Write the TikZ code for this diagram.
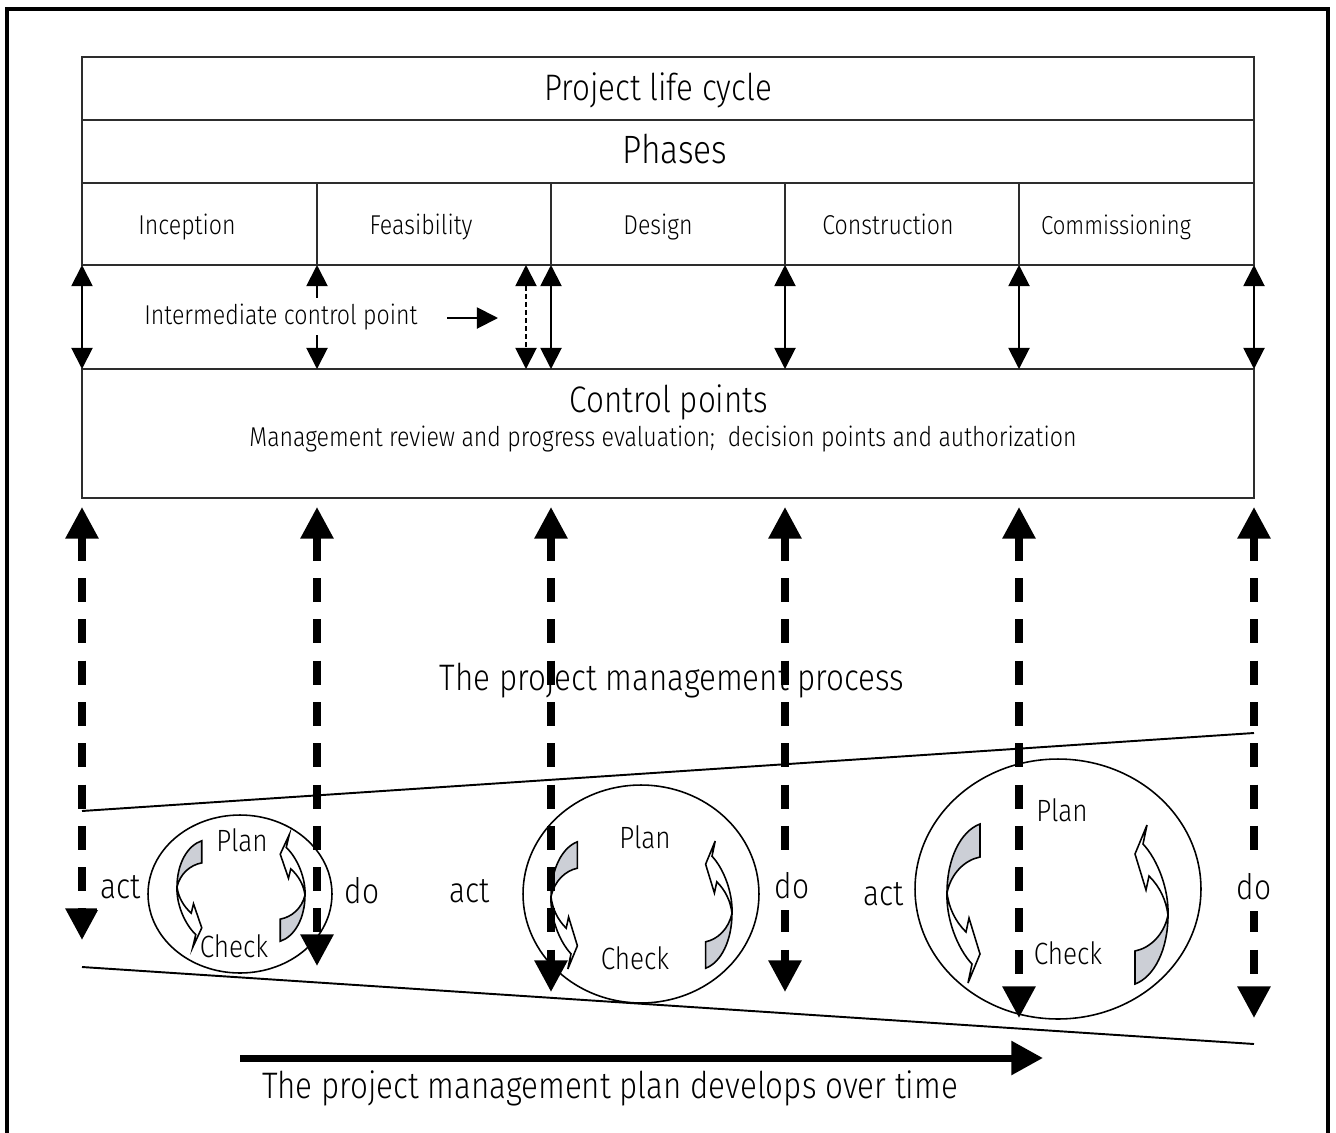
\documentclass[tikz,border=0pt]{standalone}
\usepackage{fontspec}
\setmainfont{Fira Sans}[UprightFont=* Light, FakeStretch=0.85]
\usetikzlibrary{arrows.meta,shapes.geometric}
\definecolor{ribbon}{RGB}{204,207,214}
\definecolor{rulegray}{RGB}{45,45,45}

\tikzset{
  pics/ribbon/.style={code={
    % shaded back of the twisted ribbon
    \filldraw[fill=ribbon, line width=0.9pt]
      (0,0) .. controls (0,-35) and (14,-62) .. (33,-69) -- (33,-36)
      .. controls (18,-33) and (4,-20) .. cycle;
    % white front with the arrow head
    \filldraw[fill=white, line width=0.9pt]
      (0,0) .. controls (-1,25) and (10,55) .. (25,71) -- (21,90) -- (33,61)
      -- (22,25) -- (19,39) .. controls (8,28) and (2,15) .. cycle;
  }}
}

\begin{document}
\begin{tikzpicture}[x=0.02cm, y=-0.02cm,
  grid/.style={line width=1.1pt, draw=rulegray},
  big/.style={font=\fontsize{21}{24}\selectfont, inner sep=1pt, anchor=base},
  mid/.style={font=\fontsize{15.5}{18}\selectfont, inner sep=1pt, anchor=base},
  cyc/.style={font=\fontsize{17.5}{20}\selectfont, inner sep=1pt, anchor=base},
  side/.style={font=\fontsize{20}{23}\selectfont, inner xsep=2pt, inner ysep=6pt,
    text depth=0.1em, anchor=base, fill=white},
  oval/.style={draw, ellipse, line width=0.9pt, inner sep=0pt},
  thinarrow/.style={line width=1.1pt,
    {Triangle[width=12pt,length=12pt]}-{Triangle[width=12pt,length=12pt]}},
  flowarrow/.style={line width=4pt, dash pattern=on 13.6pt off 9.9pt,
    {Triangle[width=18pt,length=18pt]}-{Triangle[width=18pt,length=18pt]}},
]
\useasboundingbox (0,0) rectangle (1336,1133);

% outer frame, open at the bottom
\draw[line width=2.2pt] (7,1160) -- (7,9) -- (1328,9) -- (1328,1160);

% life cycle table
\draw[grid] (82,57) rectangle (1254,265);
\draw[grid] (82,120) -- (1254,120);
\draw[grid] (82,183) -- (1254,183);
\foreach \cx in {317,551,785,1019}
  \draw[grid] (\cx,183) -- (\cx,265);

\node[big] (lifecycle) at (658,100) {Project life cycle};
\node[big, font=\fontsize{22.5}{25}\selectfont] (phases) at (675,163) {Phases};
\node[mid] (inception) at (187,234) {Inception};
\node[mid] (feasibility) at (421,234) {Feasibility};
\node[mid] (design) at (658,234) {Design};
\node[mid] (construction) at (888,234) {Construction};
\node[mid, font=\fontsize{14.8}{17}\selectfont] (commissioning) at (1116,234) {Commissioning};

% control points box
\draw[grid] (82,369) rectangle (1254,498);
\node[big] (cp) at (669,412) {Control points};
\node[mid] (cpsub) at (663,446) {Management review and progress evaluation;\ \ decision points and authorization};

% thin two-headed arrows between the table and the control points
\foreach \i/\cx in {1/82,2/317,3/551,4/785,5/1019,6/1254} {
  \coordinate (u\i) at (\cx,265);
  \coordinate (l\i) at (\cx,369);
}
\coordinate (um) at (526,265);
\coordinate (lm) at (526,369);
\foreach \i in {1,...,6}
  \draw[thinarrow] (u\i) -- (l\i);
\draw[thinarrow, dash pattern=on 3pt off 1.6pt] (um) -- (lm);

\node[mid, fill=white, inner sep=3pt] (icp) at (281,324) {Intermediate control point};
\coordinate (icpa) at (447,318);
\coordinate (icpb) at (498,318);
\draw[line width=1.1pt, -{Triangle[width=12pt,length=12pt]}] (icpa) -- (icpb);

% process band
\coordinate (bandtl) at (82,811);
\coordinate (bandtr) at (1254,733);
\coordinate (bandbl) at (82,967);
\coordinate (bandbr) at (1254,1044);
\draw[line width=1.1pt] (bandtl) -- (bandtr);
\draw[line width=1.1pt] (bandbl) -- (bandbr);

\node[big] (process) at (672,690) {The project management process};

% plan-do-check cycles
\node[oval, minimum width=3.68cm, minimum height=3.16cm] (cycA) at (240,894) {};
\node[oval, minimum width=4.72cm, minimum height=4.36cm] (cycB) at (641,894) {};
\node[oval, minimum width=5.72cm, minimum height=5.2cm] (cycC) at (1058,889) {};

\pic[xscale=0.75, yscale=0.67] (ribA1) at (177,887) {ribbon};
\pic[rotate=180, xscale=0.75, yscale=0.67] (ribA2) at (305,895) {ribbon};
\pic[scale=0.8] (ribB1) at (551,897) {ribbon};
\pic[rotate=180, scale=0.8] (ribB2) at (732,913) {ribbon};
\pic (ribC1) at (947,893) {ribbon};
\pic[rotate=180] (ribC2) at (1168,915) {ribbon};

\node[cyc] (planA) at (242,851) {Plan};
\node[cyc] (checkA) at (234,957) {Check};
\node[cyc] (planB) at (645,848) {Plan};
\node[cyc] (checkB) at (635,969) {Check};
\node[cyc] (planC) at (1062,821) {Plan};
\node[cyc] (checkC) at (1068,964) {Check};

% heavy dashed links to the control points
\foreach \i/\cx/\by in {1/82/940,2/317/966,3/551/992,4/785/992,5/1019/1018,6/1254/1018} {
  \coordinate (dt\i) at (\cx,507);
  \coordinate (db\i) at (\cx,\by);
}
\foreach \i in {1,...,6}
  \draw[flowarrow] (dt\i) -- (db\i);

% act / do labels sit on top of the dashed links
\node[side] (actA) at (121,898) {act};
\node[side] (doA) at (362,903) {do};
\node[side] (actB) at (470,902) {act};
\node[side] (doB) at (792,898) {do};
\node[side] (actC) at (884,905) {act};
\node[side] (doC) at (1254,899) {do};

% time arrow
\coordinate (tstart) at (240,1058);
\coordinate (tend) at (1043,1058);
\draw[line width=4pt, -{Triangle[width=18.5pt,length=18pt]}] (tstart) -- (tend);
\node[big] (timelabel) at (610,1098) {The project management plan develops over time};

\end{tikzpicture}
\end{document}
